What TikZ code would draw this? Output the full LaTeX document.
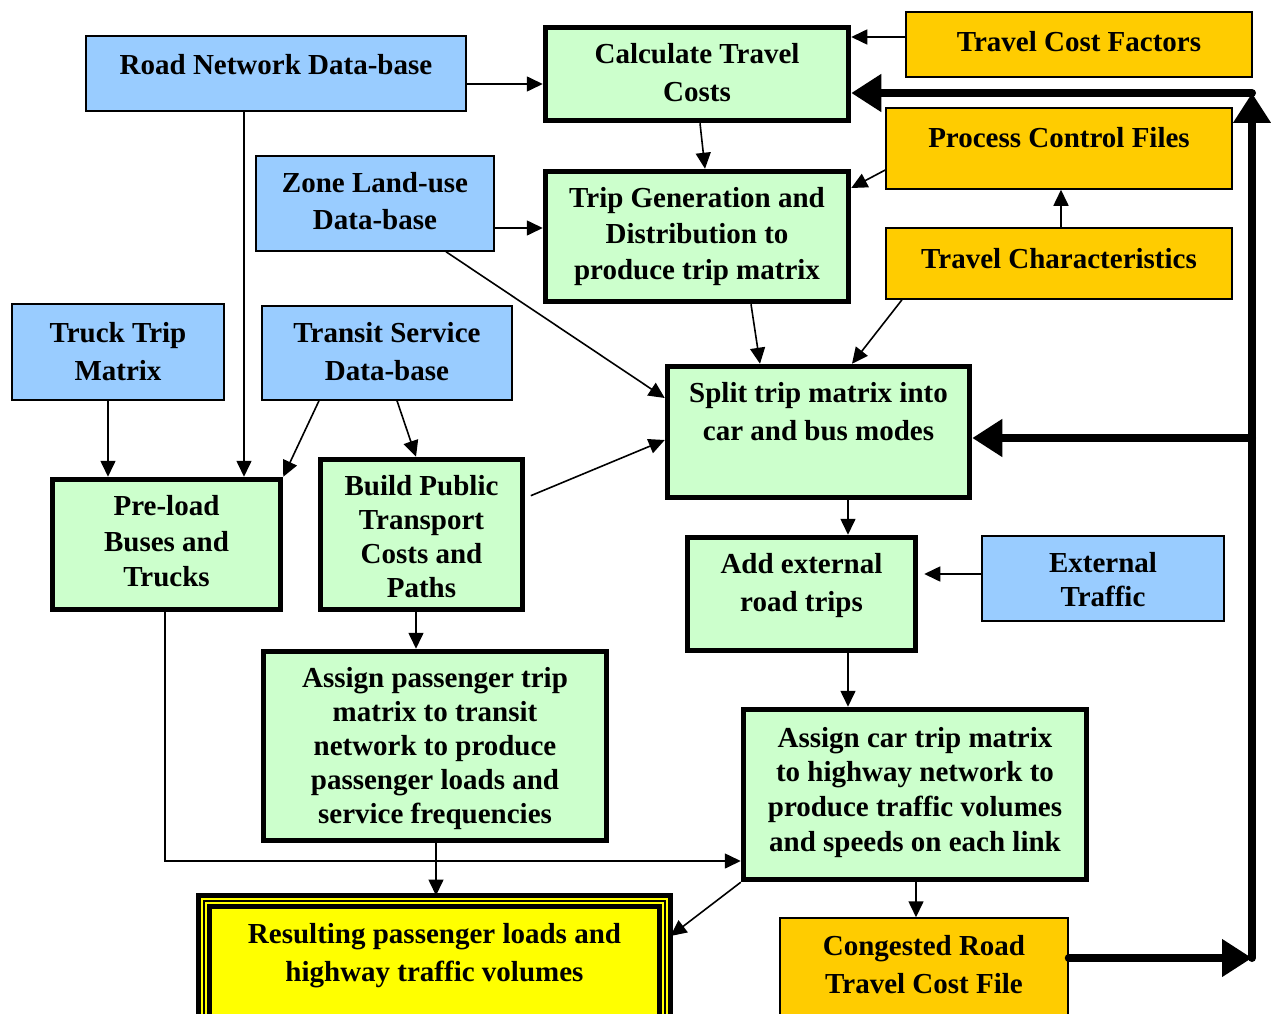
\documentclass[tikz,border=0pt]{standalone}
\usepackage{fontspec}
\setmainfont{Liberation Serif}
\usetikzlibrary{arrows.meta}
\definecolor{bluef}{HTML}{99CCFF}
\definecolor{greenf}{HTML}{CCFFCC}
\definecolor{orangef}{HTML}{FFCC00}
\definecolor{yellowf}{HTML}{FFFF00}
\newcommand\bt[5][36]{\parbox[c][#3pt][t]{#2pt}{\centering\fontsize{29pt}{#4pt}\selectfont\rule{0pt}{#1pt}#5\par}}
\begin{document}
\begin{tikzpicture}[x=1pt,y=-1pt,
  base/.style={draw=black, inner sep=0pt, font=\bfseries},
  datab/.style={base, fill=bluef, line width=1.5pt},
  procb/.style={base, fill=greenf, line width=5.5pt},
  fileb/.style={base, fill=orangef, line width=1.5pt},
  resb/.style={base, fill=yellowf, line width=5pt, outer sep=0pt},
  arr/.style={draw, line width=1.6pt, -{Triangle[length=16pt,width=15pt]}},
  bigarr/.style={draw, line width=8pt, line cap=round, -{Triangle[length=30pt,width=36pt]}}
]
\path[use as bounding box, fill=white] (0,0) rectangle (1271,1014);
\clip (0,0) rectangle (1271,1014);

% nodes
\node[datab] (road) at (276,73.5) {\bt[39]{380}{75}{38}{Road Network Data-base}};
\node[procb] (calc) at (697,74) {\bt{303}{93}{38}{Calculate Travel\\Costs}};
\node[fileb] (tcf) at (1079,44.5) {\bt[40]{346}{65}{38}{Travel Cost Factors}};
\node[fileb] (pcf) at (1059,148.5) {\bt[39]{346}{81}{38}{Process Control Files}};
\node[datab] (zone) at (375,203.5) {\bt{238}{95}{37}{Zone Land-use\\Data-base}};
\node[procb] (tripgen) at (697,236.5) {\bt{303}{130}{36}{Trip Generation and\\Distribution to\\produce trip matrix}};
\node[fileb] (tchar) at (1059,263.5) {\bt[40]{346}{71}{38}{Travel Characteristics}};
\node[datab] (truck) at (118,352) {\bt[38]{212}{96}{38}{Truck Trip\\Matrix}};
\node[datab] (transit) at (387,353) {\bt{250}{94}{38}{Transit Service\\Data-base}};
\node[procb] (split) at (818.5,432) {\bt{302}{131}{38}{Split trip matrix into\\car and bus modes}};
\node[procb] (preload) at (166.5,544.5) {\bt{228}{130}{35.5}{Pre-load\\Buses and\\Trucks}};
\node[procb] (build) at (421.5,534.5) {\bt{202}{150}{34}{Build Public\\Transport\\Costs and\\Paths}};
\node[procb] (add) at (801.5,594) {\bt{228}{113}{38}{Add external\\road trips}};
\node[datab] (ext) at (1103,578.5) {\bt{242}{85}{34}{External\\Traffic}};
\node[procb] (assignP) at (435,746) {\bt{343}{189}{34}{Assign passenger trip\\matrix to transit\\network to produce\\passenger loads and\\service frequencies}};
\node[procb] (assignC) at (915,794.5) {\bt[37.5]{343}{170}{34.7}{Assign car trip matrix\\to highway network to\\produce traffic volumes\\and speeds on each link}};
\node[resb] (result) at (434.5,965.25) {\bt[47.5]{472}{139.5}{38}{Resulting passenger loads and\\highway traffic volumes}};
\draw[line width=2pt] ([shift={(5.8,5.8)}]result.north west) rectangle ([shift={(-5.8,-5.8)}]result.south east);
\draw[line width=4.7pt] ([shift={(11.1,11.1)}]result.north west) rectangle ([shift={(-11.1,-11.1)}]result.south east);
\node[fileb] (cong) at (924,976.5) {\bt[37]{288}{117}{38}{Congested Road\\Travel Cost File}};

% thin connectors
\draw[arr] (road.east |- 0,84) -- (calc.west |- 0,84);
\draw[arr] (tcf.west |- 0,37) -- (calc.east |- 0,37);
\draw[arr] ([xshift=3pt]calc.south) -- ([xshift=8pt]tripgen.north);
\draw[arr] (pcf.west |- 0,170) -- (tripgen.east |- 0,188);
\draw[arr] (tchar.north -| 1061,0) -- (pcf.south -| 1061,0);
\draw[arr] (zone.east |- 0,228) -- (tripgen.west |- 0,228);
\draw[arr] (zone.south -| 446,0) -- (split.west |- 0,398);
\draw[arr] (tripgen.south -| 751,0) -- (split.north -| 760,0);
\draw[arr] (tchar.south -| 902,0) -- (split.north -| 852,0);
\draw[arr] (road.south -| 244,0) -- (preload.north -| 244,0);
\draw[arr] (truck.south -| 108,0) -- (preload.north -| 108,0);
\draw[arr] (transit.south -| 319,0) -- (preload.north east);
\draw[arr] (transit.south -| 397,0) -- (build.north -| 416,0);
\draw[arr, shorten <=6pt] (build.east |- 0,498) -- (split.west |- 0,440);
\draw[arr] (split.south -| 848,0) -- (add.north -| 848,0);
\draw[arr, shorten >=6pt] (ext.west |- 0,574) -- (add.east |- 0,574);
\draw[arr] (add.south -| 848,0) -- (assignC.north -| 848,0);
\draw[arr] (build.south -| 416,0) -- (assignP.north -| 416,0);
\draw[arr] (preload.south -| 165,0) |- (assignC.west |- 0,861);
\draw[arr] (assignP.south -| 436,0) -- (result.north -| 436,0);
\draw[arr] (assignC.south west) -- (result.east |- 0,936);
\draw[arr] (assignC.south -| 916,0) -- (cong.north -| 916,0);

% thick feedback loop
\coordinate (cbr) at (1252,958);
\coordinate (ctr) at (1252,93);
\coordinate (cmid) at (1252,438);
\draw[bigarr] (cong.east |- 0,958) -- (cbr);
\draw[bigarr] (cbr) -- (ctr);
\draw[bigarr] (ctr) -- (calc.east |- 0,93);
\draw[bigarr] (cmid) -- (split.east |- 0,438);
\end{tikzpicture}
\end{document}
